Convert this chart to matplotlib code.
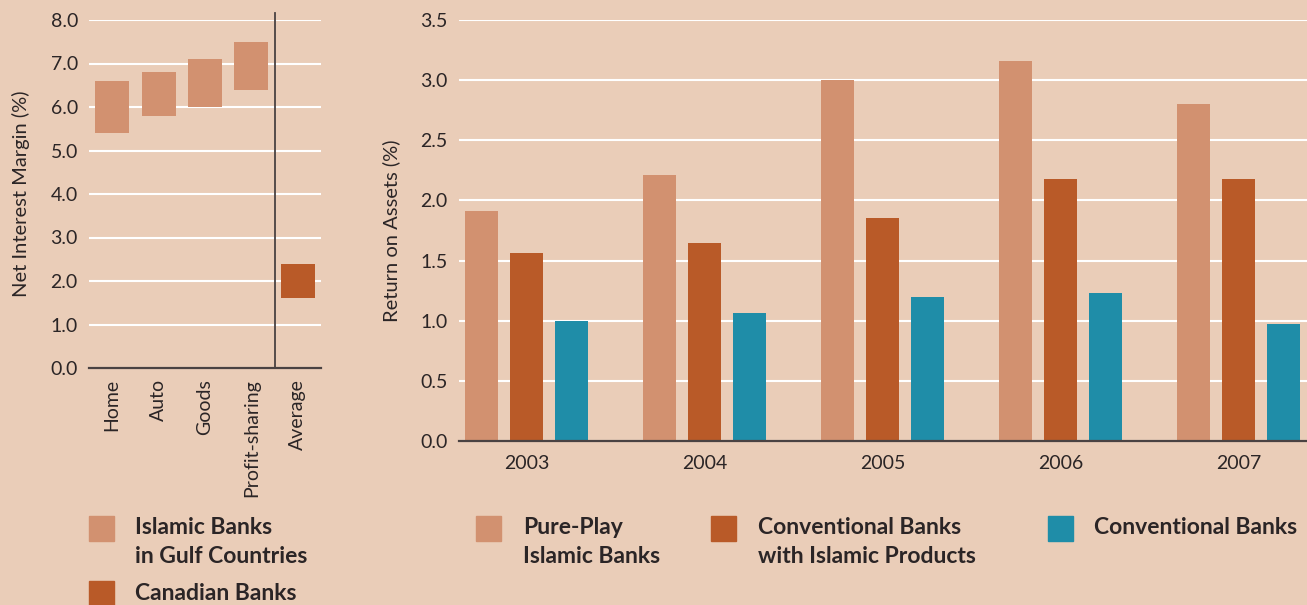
import numpy as np
import matplotlib
matplotlib.use('Agg')
import matplotlib.pyplot as plt
from matplotlib.patches import Rectangle

plt.rcParams['font.family'] = ['Lato', 'DejaVu Sans']

# net interest margin ranges (low, high)
nim_cats = ['Home', 'Auto', 'Goods', 'Profit-sharing', 'Average']
nim_low = [5.4, 5.8, 6.0, 6.4, 1.6]
nim_high = [6.6, 6.8, 7.1, 7.5, 2.4]

# return on assets
years = ['2003', '2004', '2005', '2006', '2007']
roa_pure = [1.91, 2.21, 3.00, 3.16, 2.80]
roa_conv_isl = [1.56, 1.65, 1.85, 2.18, 2.18]
roa_conv = [1.00, 1.06, 1.20, 1.23, 0.97]

bg = '#EACDB8'
c_light = '#D29170'
c_dark = '#B95A28'
c_teal = '#1F8DA8'
txt = '#2b2526'
spine = '#4a4242'

W, H = 1307, 605
fig = plt.figure(figsize=(W/100, H/100), dpi=100, facecolor=bg)

def fx(px): return px / W
def fy(py): return 1 - py / H

# ---- left chart
ax1 = fig.add_axes([fx(89), fy(368), fx(321-89), (368-20)/H])
ax1.set_facecolor(bg)
x = np.arange(len(nim_cats))
cols = [c_light]*4 + [c_dark]
ax1.bar(x, np.array(nim_high)-np.array(nim_low), bottom=nim_low, width=0.73, color=cols, zorder=3)
ax1.set_xlim(-0.5, 4.5)
ax1.set_ylim(0, 8)
ax1.set_yticks(np.arange(0, 8.1, 1))
ax1.set_yticklabels(['%.1f' % v for v in np.arange(0, 8.1, 1)])
ax1.set_xticks(x)
ax1.set_xticklabels(nim_cats, rotation=90, va='top')
ax1.grid(axis='y', color='white', lw=1.5, zorder=1)
ax1.axvline(3.5, ymin=0, ymax=1.02, color=spine, lw=1.3, clip_on=False, zorder=4)
ax1.set_ylabel('Net Interest Margin (%)', fontsize=14.5, color=txt, labelpad=15)

# ---- right chart
ax2 = fig.add_axes([fx(459), fy(441), fx(1307-459), (441-20)/H])
ax2.set_facecolor(bg)
x = np.arange(len(years))
bw = 0.185
off = 0.253
ax2.bar(x-off, roa_pure, width=bw, color=c_light, zorder=3)
ax2.bar(x, roa_conv_isl, width=bw, color=c_dark, zorder=3)
ax2.bar(x+off, roa_conv, width=bw, color=c_teal, zorder=3)
ax2.set_xlim(-0.38, 4.385)
ax2.set_ylim(0, 3.5)
ax2.set_yticks(np.arange(0, 3.51, 0.5))
ax2.set_yticklabels(['%.1f' % v for v in np.arange(0, 3.51, 0.5)])
ax2.set_xticks(x)
ax2.set_xticklabels(years)
ax2.grid(axis='y', color='white', lw=1.5, zorder=1)
ax2.set_ylabel('Return on Assets (%)', fontsize=14.5, color=txt, labelpad=15)

for ax in (ax1, ax2):
    for s in ['top', 'right', 'left']:
        ax.spines[s].set_visible(False)
    ax.spines['bottom'].set_color(spine)
    ax.spines['bottom'].set_linewidth(1.6)
    ax.spines['bottom'].set_zorder(5)
    ax.tick_params(length=0, labelsize=14, colors=txt, pad=8)
    ax.set_axisbelow(True)
ax1.tick_params(axis='x', pad=8)
ax2.tick_params(axis='x', pad=10)

# ---- legends
def square(px, py, color):
    fig.patches.append(Rectangle((fx(px), fy(py+25)), 25/W, 25/H, color=color,
                                 transform=fig.transFigure, figure=fig))

def label(px, py, s):
    fig.text(fx(px), fy(py), s, fontsize=16.5, fontweight='bold', color=txt,
             va='center', ha='left', linespacing=1.5)

square(89, 516, c_light)
label(135, 542, 'Islamic Banks\nin Gulf Countries')
square(89, 581, c_dark)
label(135, 593, 'Canadian Banks')

square(476, 516, c_light)
label(523, 542, 'Pure-Play\nIslamic Banks')
square(711, 516, c_dark)
label(758, 542, 'Conventional Banks\nwith Islamic Products')
square(1048, 516, c_teal)
label(1094, 527, 'Conventional Banks')

fig.savefig('out.png', dpi=100, facecolor=bg)
